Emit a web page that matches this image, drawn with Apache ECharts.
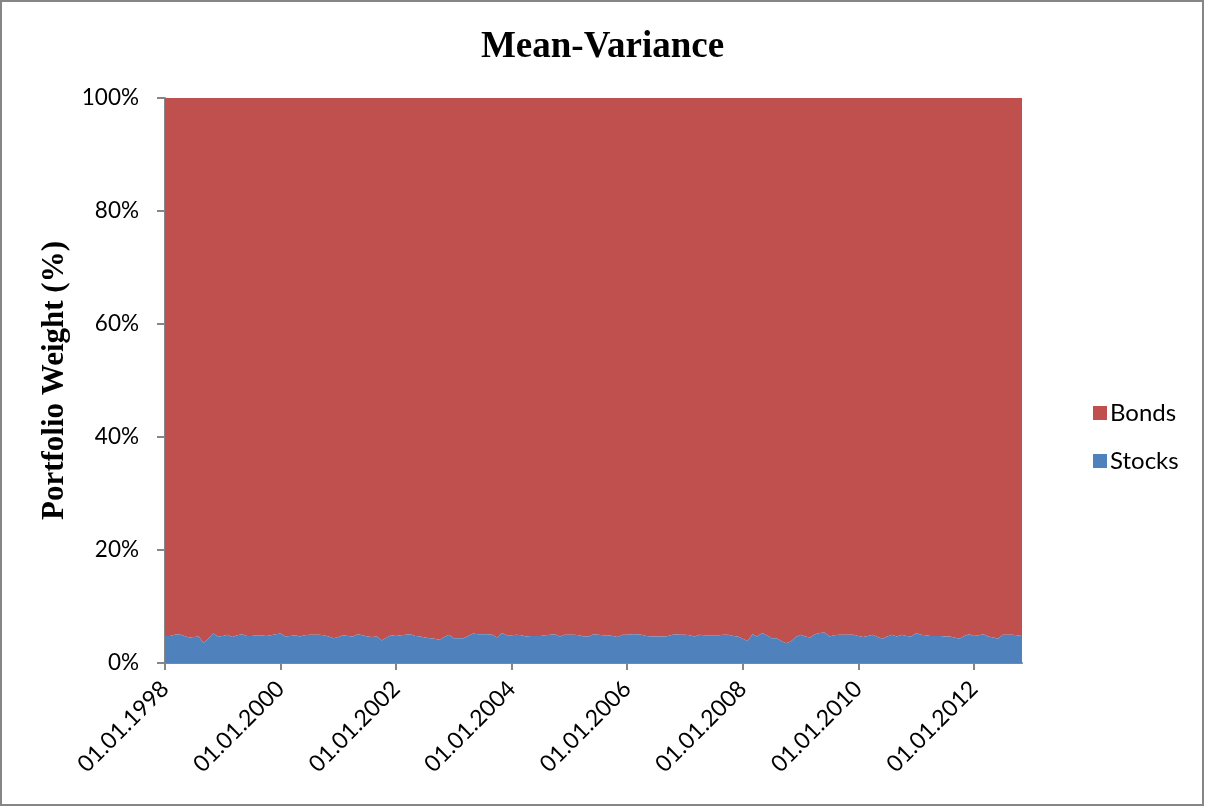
<!DOCTYPE html>
<html>
<head>
<meta charset="utf-8">
<script src="https://cdn.jsdelivr.net/npm/echarts@6/dist/echarts.min.js"></script>
<style>
html,body{margin:0;padding:0;background:#fff;}
#chart{width:1205px;height:807px;}
</style>
</head>
<body>
<div id="chart"></div>
<script>
// Monthly observations, Jan 1998 – Nov 2012 (179 months)
const startYear = 1998;
const monthCount = 179;
const categories = [];
for (let i = 0; i < monthCount; i++) {
  const y = startYear + Math.floor(i / 12);
  const m = (i % 12) + 1;
  categories.push('01.' + (m < 10 ? '0' + m : m) + '.' + y);
}

const seriesNames = ['Stocks', 'Bonds'];

const stocks = [
  4.8,4.8,5.0,5.1,4.8,4.5,4.6,4.7,3.6,4.3,5.2,4.7,
  4.8,5.0,4.6,4.9,5.1,4.8,4.8,4.9,4.9,4.8,4.9,5.1,
  5.2,4.7,4.8,4.9,4.7,4.9,5.0,5.0,5.0,4.9,4.7,4.4,
  4.6,4.9,4.8,4.7,5.1,4.9,4.7,4.6,4.7,4.0,4.5,4.9,
  4.8,4.9,5.0,5.1,4.8,4.7,4.5,4.4,4.3,4.1,4.6,5.0,
  4.4,4.4,4.4,4.8,5.2,5.1,5.1,5.1,5.0,4.5,5.3,4.9,
  4.9,5.0,4.9,4.7,4.8,4.8,4.8,4.9,5.0,5.1,4.7,5.0,
  5.0,5.0,4.9,4.7,4.7,5.1,5.0,4.9,4.9,4.8,4.6,5.0,
  5.0,5.1,5.1,5.0,4.8,4.7,4.7,4.7,4.7,4.9,5.1,5.0,
  5.0,4.9,4.7,5.0,4.9,4.9,4.9,4.9,5.0,5.0,4.8,4.7,
  4.3,3.9,5.1,4.7,5.3,4.9,4.4,4.4,3.9,3.5,3.8,4.6,
  5.0,4.7,4.5,5.1,5.3,5.4,4.7,4.9,5.0,5.0,5.0,5.0,
  4.8,4.6,4.8,5.0,4.6,4.3,4.7,5.0,4.7,5.0,4.8,4.7,
  5.3,5.0,4.9,4.8,4.8,4.8,4.7,4.7,4.5,4.3,4.8,5.1,
  4.8,4.9,5.1,4.7,4.5,4.3,5.0,5.0,5.0,4.9,4.8
];

const bonds = [
  95.2,95.2,95.0,94.9,95.2,95.5,95.4,95.3,96.4,95.7,94.8,95.3,
  95.2,95.0,95.4,95.1,94.9,95.2,95.2,95.1,95.1,95.2,95.1,94.9,
  94.8,95.3,95.2,95.1,95.3,95.1,95.0,95.0,95.0,95.1,95.3,95.6,
  95.4,95.1,95.2,95.3,94.9,95.1,95.3,95.4,95.3,96.0,95.5,95.1,
  95.2,95.1,95.0,94.9,95.2,95.3,95.5,95.6,95.7,95.9,95.4,95.0,
  95.6,95.6,95.6,95.2,94.8,94.9,94.9,94.9,95.0,95.5,94.7,95.1,
  95.1,95.0,95.1,95.3,95.2,95.2,95.2,95.1,95.0,94.9,95.3,95.0,
  95.0,95.0,95.1,95.3,95.3,94.9,95.0,95.1,95.1,95.2,95.4,95.0,
  95.0,94.9,94.9,95.0,95.2,95.3,95.3,95.3,95.3,95.1,94.9,95.0,
  95.0,95.1,95.3,95.0,95.1,95.1,95.1,95.1,95.0,95.0,95.2,95.3,
  95.7,96.1,94.9,95.3,94.7,95.1,95.6,95.6,96.1,96.5,96.2,95.4,
  95.0,95.3,95.5,94.9,94.7,94.6,95.3,95.1,95.0,95.0,95.0,95.0,
  95.2,95.4,95.2,95.0,95.4,95.7,95.3,95.0,95.3,95.0,95.2,95.3,
  94.7,95.0,95.1,95.2,95.2,95.2,95.3,95.3,95.5,95.7,95.2,94.9,
  95.2,95.1,94.9,95.3,95.5,95.7,95.0,95.0,95.0,95.1,95.2
];

const yTicks = { min: 0, max: 100, interval: 20 };

const chart = echarts.init(document.getElementById('chart'), null, { renderer: 'canvas' });

const axisGray = '#868686';
const labelFont = 'Lato, "Open Sans", "Liberation Sans", sans-serif';
const serifFont = '"Liberation Serif", "DejaVu Serif", serif';

chart.setOption({
  animation: false,
  backgroundColor: '#ffffff',
  title: {
    text: 'Mean-Variance',
    left: 'center',
    top: 24,
    textStyle: {
      fontFamily: serifFont,
      fontWeight: 'bold',
      fontSize: 37,
      color: '#000'
    }
  },
  legend: {
    orient: 'vertical',
    left: 1088,
    top: 396,
    itemGap: 24,
    itemWidth: 14,
    itemHeight: 14,
    icon: 'rect',
    data: ['Bonds', 'Stocks'],
    textStyle: { fontFamily: labelFont, fontSize: 24, color: '#000', padding: [0, 0, 0, -2] }
  },
  grid: {
    left: 165,
    right: 183,
    top: 98,
    bottom: 144,
    containLabel: false
  },
  xAxis: {
    type: 'category',
    boundaryGap: false,
    data: categories,
    axisLine: { show: true, lineStyle: { color: axisGray, width: 2 } },
    axisTick: { show: true, interval: 23, length: 7, lineStyle: { color: axisGray, width: 2 } },
    axisLabel: {
      interval: 23,
      rotate: 45,
      margin: 22,
      fontFamily: labelFont,
      fontSize: 23,
      color: '#000'
    },
    splitLine: { show: false }
  },
  yAxis: {
    type: 'value',
    min: yTicks.min,
    max: yTicks.max,
    interval: yTicks.interval,
    name: 'Portfolio Weight (%)',
    nameLocation: 'middle',
    nameGap: 91,
    nameRotate: 90,
    nameTextStyle: {
      fontFamily: serifFont,
      fontWeight: 'bold',
      fontSize: 31,
      color: '#000'
    },
    axisLine: { show: true, lineStyle: { color: axisGray, width: 2 } },
    axisTick: { show: true, length: 8, lineStyle: { color: axisGray, width: 2 } },
    axisLabel: {
      formatter: '{value}%',
      margin: 26,
      fontFamily: labelFont,
      fontSize: 22.5,
      color: '#000'
    },
    splitLine: { show: false }
  },
  graphic: [{
    type: 'rect',
    shape: { x: 1, y: 1, width: 1202, height: 804 },
    style: { fill: 'none', stroke: axisGray, lineWidth: 2 },
    silent: true,
    z: 100
  }],
  series: [
    {
      name: seriesNames[0],
      type: 'line',
      stack: 'total',
      data: stocks,
      symbol: 'none',
      lineStyle: { width: 0 },
      areaStyle: { color: '#4F81BD', opacity: 1 },
      itemStyle: { color: '#4F81BD' },
      z: 3
    },
    {
      name: seriesNames[1],
      type: 'line',
      stack: 'total',
      data: bonds,
      symbol: 'none',
      lineStyle: { width: 0 },
      areaStyle: { color: '#C0504D', opacity: 1 },
      itemStyle: { color: '#C0504D' },
      z: 2
    }
  ]
});
</script>
</body>
</html>
